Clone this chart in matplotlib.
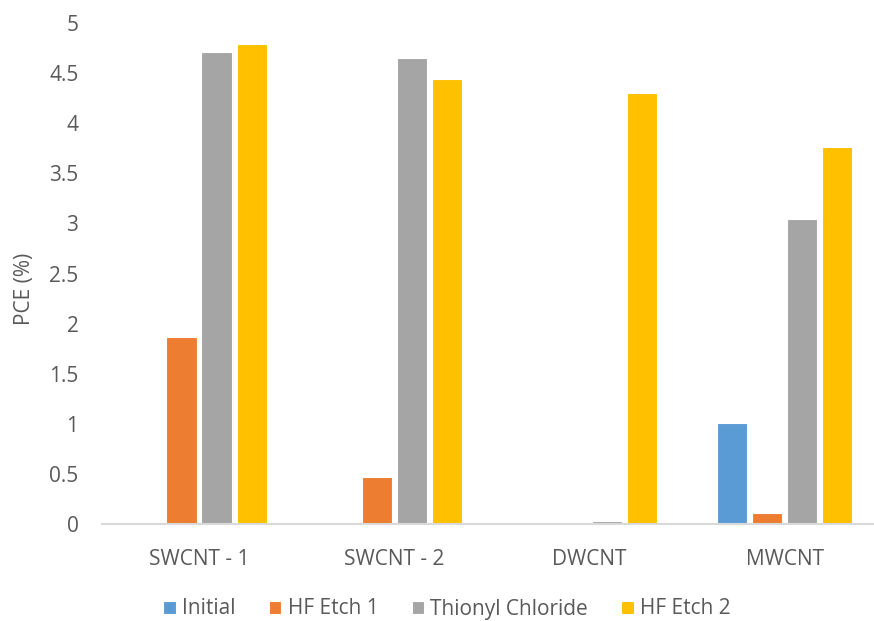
import numpy as np
from matplotlib import pyplot as plt

categories = ["SWCNT - 1", "SWCNT - 2", "DWCNT", "MWCNT"]
series_names = ["Initial", "HF Etch 1", "Thionyl Chloride", "HF Etch 2"]
initial = [0, 0, 0, 1.01]
hf_etch_1 = [1.87, 0.47, 0, 0.11]
thionyl = [4.71, 4.65, 0.03, 3.04]
hf_etch_2 = [4.79, 4.44, 4.30, 3.76]
colors = ["#5B9BD5", "#ED7D31", "#A5A5A5", "#FFC000"]

plt.rcParams["font.family"] = ["Open Sans", "DejaVu Sans"]
text_color = "#595959"

fig = plt.figure(figsize=(8.74, 6.21), dpi=100)
ax = fig.add_axes([102 / 874, 97 / 621, 772 / 874, 501 / 621])

x = np.arange(len(categories))
stride = 0.18
for i, (name, vals) in enumerate(zip(series_names, [initial, hf_etch_1, thionyl, hf_etch_2])):
    ax.bar(x + (i - 1.5) * stride, vals, width=0.155, color=colors[i],
           edgecolor="white", linewidth=0.8, label=name, zorder=2)

ax.set_xlim(-0.497, 3.458)
ax.set_ylim(0, 5)
ax.set_yticks(np.arange(0, 5.01, 0.5))
ax.set_yticklabels(["0", "0.5", "1", "1.5", "2", "2.5", "3", "3.5", "4", "4.5", "5"])
ax.set_xticks(x)
ax.set_xticklabels(categories)
ax.tick_params(axis="both", length=0, labelsize=15, colors=text_color)
ax.tick_params(axis="x", pad=18)
ax.tick_params(axis="y", pad=17)

for side in ["top", "right", "left"]:
    ax.spines[side].set_visible(False)
ax.spines["bottom"].set_color("#D9D9D9")
ax.spines["bottom"].set_linewidth(1.5)

ax.set_ylabel("PCE (%)", fontsize=15, color=text_color)
ax.yaxis.set_label_coords(-0.087, 0.47)

fig.legend(loc="center", bbox_to_anchor=(447 / 874, 12 / 621), ncol=4, frameon=False,
           fontsize=15, labelcolor=text_color, handlelength=0.6, handleheight=0.6,
           handletextpad=0.3, columnspacing=1.6)

fig.savefig("out.png", dpi=100)
